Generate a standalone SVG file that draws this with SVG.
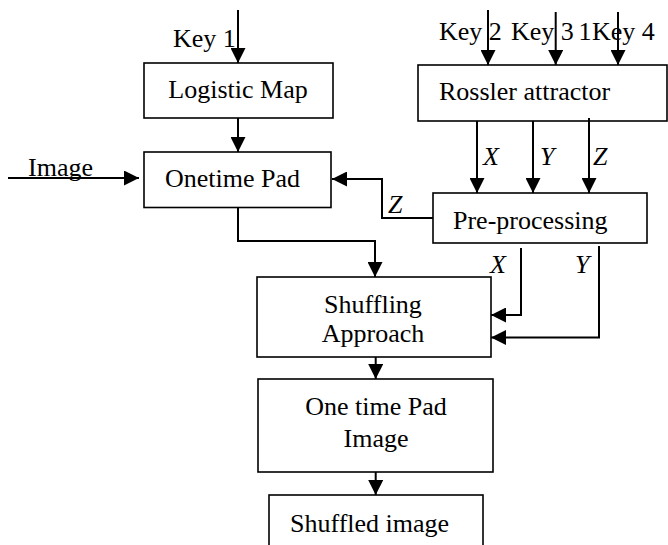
<svg xmlns="http://www.w3.org/2000/svg" width="668" height="545" viewBox="0 0 668 545">
<style>
.box{fill:#fff;stroke:#000;stroke-width:1.6}
.t{font-family:"Liberation Serif","Times New Roman",serif;font-size:26px;fill:#000}
.i{font-style:italic}
.m{text-anchor:middle}
.c{fill:none;stroke:#000;stroke-width:2}
</style>
<defs>
<marker id="arr" viewBox="0 0 16 16" refX="16" refY="8" markerWidth="16" markerHeight="15" markerUnits="userSpaceOnUse" orient="auto">
<path d="M0,0 L16,8 L0,16 Z" fill="#000"/>
</marker>
</defs>
<rect width="668" height="545" fill="#fff"/>
<g id="logistic"><rect class="box" x="144" y="63" width="189" height="55"/><text class="t m" x="238" y="98">Logistic Map</text></g>
<g id="rossler"><rect class="box" x="418" y="65" width="249" height="56"/><text class="t" x="439" y="100">Rossler attractor</text></g>
<g id="onetime"><rect class="box" x="144" y="152" width="187" height="55.5"/><text class="t" x="165" y="187">Onetime Pad</text></g>
<g id="pre"><rect class="box" x="433" y="193" width="214" height="50"/><text class="t" x="453" y="229">Pre-processing</text></g>
<g id="shuffling"><rect class="box" x="257" y="277" width="234" height="80"/><text class="t m" x="373" y="313">Shuffling</text><text class="t m" x="373" y="342">Approach</text></g>
<g id="otpimage"><rect class="box" x="258" y="379" width="235" height="93"/><text class="t m" x="376" y="415">One time Pad</text><text class="t m" x="376" y="447">Image</text></g>
<g id="shuffled"><rect class="box" x="269" y="495" width="214" height="60"/><text class="t" x="290" y="532">Shuffled image</text></g>
<g id="labels">
<text class="t" x="173" y="47">Key 1</text>
<text class="t" x="439" y="40">Key 2</text>
<text class="t" x="511" y="40">Key 3<tspan x="578.5">1</tspan></text>
<text class="t" x="592" y="40">Key 4</text>
<text class="t" x="28" y="176">Image</text>
<text class="t i" x="483" y="165">X</text>
<text class="t i" x="540" y="165">Y</text>
<text class="t i" x="593" y="165">Z</text>
<text class="t i" x="388" y="213">Z</text>
<text class="t i" x="490" y="273">X</text>
<text class="t i" x="575" y="273">Y</text>
</g>
<g id="connectors">
<line class="c" x1="238" y1="10" x2="238" y2="63" marker-end="url(#arr)"/>
<line class="c" x1="488" y1="10" x2="488" y2="65" marker-end="url(#arr)"/>
<line class="c" x1="555.7" y1="12" x2="555.7" y2="65" marker-end="url(#arr)"/>
<line class="c" x1="618" y1="12" x2="618" y2="65" marker-end="url(#arr)"/>
<line class="c" x1="238" y1="118" x2="238" y2="152" marker-end="url(#arr)"/>
<line class="c" x1="8" y1="178" x2="139" y2="178" marker-end="url(#arr)"/>
<line class="c" x1="477" y1="121" x2="477" y2="193" marker-end="url(#arr)"/>
<line class="c" x1="533" y1="121" x2="533" y2="193" marker-end="url(#arr)"/>
<line class="c" x1="589" y1="118" x2="589" y2="193" marker-end="url(#arr)"/>
<polyline class="c" points="433,218 382,218 382,179 332,179" marker-end="url(#arr)"/>
<polyline class="c" points="238,208 238,241 375,241 375,277" marker-end="url(#arr)"/>
<polyline class="c" points="521,248 521,315 491,315" marker-end="url(#arr)"/>
<polyline class="c" points="599,246 599,337.5 491,337.5" marker-end="url(#arr)"/>
<line class="c" x1="375.7" y1="357" x2="375.7" y2="379" marker-end="url(#arr)"/>
<line class="c" x1="375.7" y1="472" x2="375.7" y2="495" marker-end="url(#arr)"/>
</g>
</svg>
